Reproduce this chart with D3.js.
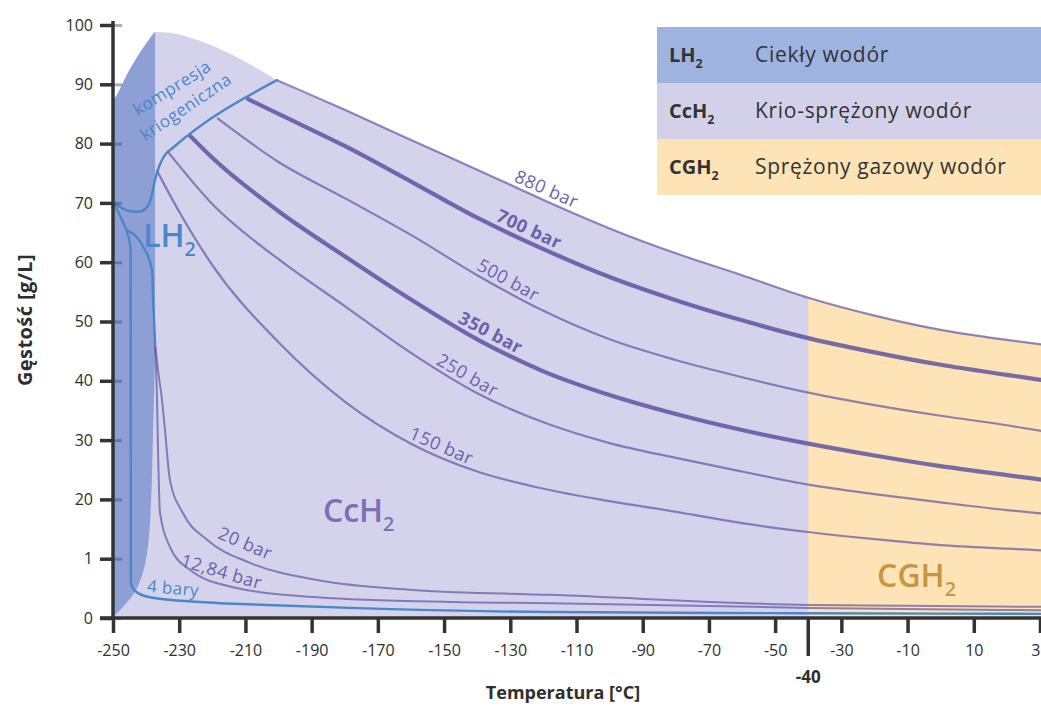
<!DOCTYPE html>
<html><head><meta charset="utf-8">
<script src="https://cdn.jsdelivr.net/npm/d3@7"></script>
<style>body{margin:0;background:#fff}svg{display:block;font-family:'Open Sans',sans-serif;overflow:hidden}</style>
</head><body><svg id="c" width="1041" height="706"></svg>
<script>
// ---------- DATA (temperature °C, density g/L) ----------
const xTicks = [-250,-230,-210,-190,-170,-150,-130,-110,-90,-70,-50,-30,-10,10,30];
const xSpecialTick = -40;
const yTicks = [0,10,20,30,40,50,60,70,80,90,100];
const yTickLabels = ["0","1","20","30","40","50","60","70","80","90","100"];

const bar880T = [-200.5,-180,-160,-140,-120,-100,-80,-60,-40,-20,0,20,31];
const bar880D = [90.7,85.7,80.6,75.6,70.5,65.7,61.5,57.8,54.0,51.0,48.6,46.9,46.1];
const bar700T = [-209.2,-200,-180,-160,-140,-120,-100,-80,-60,-40,-20,0,20,31];
const bar700D = [87.5,85.0,79.6,73.6,67.5,62.2,57.5,53.6,50.2,47.2,44.8,42.7,41.0,40.1];
const bar500T = [-218.3,-200,-180,-160,-140,-120,-100,-80,-60,-40,-20,0,20,31];
const bar500D = [84.2,76.9,70.8,64.6,57.8,51.8,47.0,43.5,40.6,38.0,35.9,34.1,32.5,31.5];
const bar350T = [-226.7,-220,-200,-180,-160,-140,-120,-100,-80,-60,-40,-20,0,20,31];
const bar350D = [81.3,77.6,68.6,61.0,53.7,47.0,41.6,37.6,34.4,31.7,29.4,27.4,25.6,24.1,23.3];
const bar250T = [-233.4,-220,-200,-180,-160,-140,-120,-100,-80,-60,-40,-20,0,20,31];
const bar250D = [78.6,69.8,60.5,52.6,44.7,37.9,33.0,29.5,27.0,24.7,22.5,20.9,19.5,18.2,17.6];
const bar150T = [-236.7,-230,-220,-200,-180,-160,-140,-120,-100,-80,-60,-40,-20,0,20,31];
const bar150D = [75.4,68.5,59.5,46.5,36.5,29.4,24.7,21.8,19.7,17.9,16.0,14.5,13.3,12.3,11.7,11.4];
const bar20T  = [-237.3,-236.4,-235.2,-234.3,-232.8,-228.9,-221.6,-208.6,-188.4,-158.2,-118,-40,31];
const bar20D  = [46.4,41.8,36.8,31.7,23.3,17.7,13.2,9.3,6.4,4.7,3.9,2.2,1.9];
const bar1284T = [-237.3,-236.7,-236.4,-235.8,-232.8,-226.7,-213.7,-188.4,-148.2,-118,-40,31];
const bar1284D = [45.7,36.8,28.3,17.7,12.0,8.1,5.2,3.5,2.7,2.5,1.7,1.3];
const bar4T   = [-250,-247.3,-245.5,-244.7,-244.6,-243.4,-238.8,-223.7,-203.5,-178.4,-118,-40,31];
const bar4D   = [70.2,67.1,64.6,62.4,5.9,4.6,3.5,2.7,2.2,1.7,1.0,0.8,0.7];
const satT    = [-245.8,-240.9,-238.2,-237.9,-237.3];
const satD    = [65.4,62.6,58.7,54.1,46.4];
const cryoT   = [-250,-247.9,-244.9,-242.4,-240.0,-238.5,-237.3,-236.1,-234.3,-231.9,-200.5];
const cryoD   = [70.2,69.3,68.6,68.5,69.1,70.8,73.9,76.1,78.1,79.3,90.7];
const lh2TopT = [-250,-248.8,-245.8,-242.7,-239.7,-237.3];
const lh2TopD = [87.0,88.2,91.6,94.6,97.1,98.8];
const lh2EdgeT = [-237.3,-237.3,-237.9,-238.5,-239.4,-240.9,-243.4,-247.3,-250];
const lh2EdgeD = [98.8,46.4,31.7,19.9,12.3,7.8,4.4,1.7,0.2];
const cchTopT = [-237.3,-232.8,-223.7,-213.7,-205.6,-200.5];
const cchTopD = [98.8,98.7,97.3,94.9,92.4,90.7];
const cghStart = -40;

const isobarNames = ["880 bar","700 bar","500 bar","350 bar","250 bar","150 bar","20 bar","12,84 bar"];
const legendSymbols = ["LH", "CcH", "CGH"];
const legendNames = ["Ciekły wodór", "Krio-sprężony wodór", "Sprężony gazowy wodór"];

// ---------- CHART ----------
const svg = d3.select('#c');
const x = d3.scaleLinear().domain([-250,30]).range([113,1040]);
const y = d3.scaleLinear().domain([0,100]).range([618,25]);
const zip = (T,D) => T.map((t,i)=>[t,D[i]]);

const lineX = d3.line().x(d=>x(d[0])).y(d=>y(d[1])).curve(d3.curveMonotoneX);
const lineY = d3.line().x(d=>x(d[0])).y(d=>y(d[1])).curve(d3.curveMonotoneY);

const COL = {lav:'#d5d3ec', lh2:'#8d9fd4', cgh:'#fde3b5', blue:'#4a86c8', purple:'#564b9e', text:'#2e2e2e', lab:'#6a62ab'};

// CcH2 area (lavender)
const topEdge = zip(lh2TopT.slice(0,-1),lh2TopD.slice(0,-1))
  .concat(zip(cchTopT,cchTopD))
  .concat(zip(bar880T.slice(1),bar880D.slice(1)));
const area = d3.area().x(d=>x(d[0])).y0(y(0)).y1(d=>y(d[1])).curve(d3.curveMonotoneX);
svg.append('path').attr('d',area(topEdge)).attr('fill',COL.lav);

// CGH2 area (orange) = same upper edge, clipped from -40
svg.append('clipPath').attr('id','cg').append('rect')
  .attr('x',x(cghStart)).attr('y',0).attr('width',1041-x(cghStart)).attr('height',706);
svg.append('path').attr('d',area(topEdge)).attr('fill',COL.cgh).attr('clip-path','url(#cg)');

// LH2 area (dark blue)
const p1 = lineX([[ -250, 0]].concat(zip(lh2TopT,lh2TopD)));
const p2 = lineY(zip(lh2EdgeT,lh2EdgeD)).replace(/^M/,'L');
svg.append('path').attr('d',p1+p2+'Z').attr('fill',COL.lh2);

// isobars
const isobars = [
  {T:bar880T,D:bar880D,w:2.2},
  {T:bar700T,D:bar700D,w:4.2},
  {T:bar500T,D:bar500D,w:2.2},
  {T:bar350T,D:bar350D,w:4.2},
  {T:bar250T,D:bar250D,w:2.2},
  {T:bar150T,D:bar150D,w:2.2},
  {T:bar20T,D:bar20D,w:2},
  {T:bar1284T,D:bar1284D,w:2},
];
const isoPaths = svg.append('g').selectAll('path').data(isobars).join('path')
  .attr('d',d=>lineX(zip(d.T,d.D))).attr('fill','none')
  .attr('stroke',COL.purple).attr('stroke-opacity',d=>d.w>3?0.8:0.65)
  .attr('stroke-width',d=>d.w).attr('stroke-linecap','round');

// blue lines
const bluePaths = [[bar4T,bar4D],[satT,satD],[cryoT,cryoD]].map(([T,D])=>
  svg.append('path').attr('d',lineX(zip(T,D))).attr('fill','none')
    .attr('stroke',COL.blue).attr('stroke-width',2.4).attr('stroke-linecap','round'));

// ---------- AXES ----------
const ax = svg.append('g');
const yAxis = d3.axisLeft(y).tickValues(yTicks).tickFormat((d,i)=>yTickLabels[i]).tickSize(13).tickPadding(7);
const gy = ax.append('g').attr('transform',`translate(${x(-250)},0)`).call(yAxis);
gy.select('.domain').remove();
gy.selectAll('.tick line').attr('stroke','#333').attr('stroke-width',3.5);
gy.selectAll('.tick').append('line').attr('x1',0).attr('x2',9).attr('stroke','#3c4a7a').attr('stroke-opacity',0.45).attr('stroke-width',3);
gy.selectAll('.tick text').attr('font-size',16).attr('fill',COL.text).attr('font-family','Open Sans');
ax.append('line').attr('x1',x(-250)).attr('x2',x(-250)).attr('y1',y(0)+2).attr('y2',y(100)-4).attr('stroke','#333').attr('stroke-width',3.5);

const xAxis = d3.axisBottom(x).tickValues(xTicks).tickFormat(d=>String(d)).tickSize(15).tickPadding(12);
const gx = ax.append('g').attr('transform',`translate(0,${y(0)})`).call(xAxis);
gx.select('.domain').remove();
gx.selectAll('.tick line').attr('stroke','#333').attr('stroke-width',3.5);
gx.selectAll('.tick text').attr('font-size',16).attr('fill',COL.text).attr('font-family','Open Sans');
ax.append('line').attr('x1',x(-250)-13).attr('x2',1041).attr('y1',y(0)).attr('y2',y(0)).attr('stroke','#333').attr('stroke-width',3.5);
ax.append('line').attr('x1',x(xSpecialTick)).attr('x2',x(xSpecialTick)).attr('y1',y(0)).attr('y2',y(0)+38).attr('stroke','#333').attr('stroke-width',3.5);
ax.append('text').attr('x',x(xSpecialTick)).attr('y',y(0)+65).attr('text-anchor','middle')
  .attr('font-size',17).attr('font-weight',700).attr('fill',COL.text).text(String(xSpecialTick));

svg.append('text').attr('x',563).attr('y',699).attr('text-anchor','middle')
  .attr('font-size',18).attr('font-weight',700).attr('fill',COL.text).text('Temperatura [°C]');
svg.append('text').attr('transform','translate(32,320) rotate(-90)').attr('text-anchor','middle')
  .attr('font-size',20).attr('font-weight',700).attr('fill',COL.text).attr('letter-spacing',0.4).text('Gęstość [g/L]');

// ---------- LABELS ON LINES ----------
function pointAtX(node, px){
  const L = node.getTotalLength(); let lo=0, hi=L;
  for(let k=0;k<40;k++){ const m=(lo+hi)/2; if(node.getPointAtLength(m).x<px) lo=m; else hi=m; }
  return node.getPointAtLength((lo+hi)/2);
}
function labelOn(node, xc, off, txt, opts){
  const a = pointAtX(node, xc-12), b = pointAtX(node, xc+12), c = pointAtX(node, xc);
  const ang = Math.atan2(b.y-a.y, b.x-a.x)*180/Math.PI;
  return svg.append('text').attr('transform',`translate(${c.x},${c.y}) rotate(${ang})`)
    .attr('text-anchor','middle').attr('dy',-off).attr('font-size',opts.size).attr('font-weight',opts.weight||400)
    .attr('letter-spacing',opts.ls||0).attr('fill',opts.color).text(txt);
}
const labelX = [542,524,503,485,462,437,239,218];
const labelOff = [5,6,5,6,5,5,10,6];
isoPaths.each(function(d,i){
  labelOn(this, labelX[i], labelOff[i], isobarNames[i], {size:18, weight:(i===1||i===3)?700:400, ls:0.5, color:COL.lab});
});
labelOn(bluePaths[0].node(), 172, 6, '4 bary', {size:17, ls:0.4, color:COL.blue});

// "kompresja kriogeniczna" (two rotated lines)
[['kompresja',-232.2,89.4,-32],['kriogeniczna',-228.0,86.2,-34]].forEach(([t,T,D,a])=>{
  svg.append('text').attr('transform',`translate(${x(T)},${y(D)}) rotate(${a})`)
    .attr('text-anchor','middle').attr('dy','0.35em').attr('font-size',17).attr('letter-spacing',0.5)
    .attr('fill',COL.blue).text(t);
});

// ---------- REGION LABELS ----------
function sub(sel, main, s, fs){
  sel.append('tspan').text(main);
  sel.append('tspan').attr('font-size',fs*0.62).attr('dy',fs*0.28).text(s);
}
sub(svg.append('text').attr('x',x(-240.9)).attr('y',y(62.6)).attr('font-size',32).attr('font-weight',600).attr('fill',COL.blue),'LH','2',32);
sub(svg.append('text').attr('x',x(-186.6)).attr('y',y(16.2)).attr('font-size',32).attr('font-weight',600).attr('fill','#7a70b5'),'CcH','2',32);
sub(svg.append('text').attr('x',x(-19.2)).attr('y',y(5.2)).attr('font-size',32).attr('font-weight',600).attr('fill','#c99540'),'CGH','2',32);

// ---------- LEGEND ----------
const legColors = ['#9eb3df','#d3d1ea','#fde3b5'];
const lg = svg.append('g').attr('transform','translate(657,27)');
legendSymbols.forEach((s,i)=>{
  const r = lg.append('g').attr('transform',`translate(0,${i*56})`);
  r.append('rect').attr('width',400).attr('height',56).attr('fill',legColors[i]);
  sub(r.append('text').attr('x',12).attr('y',35).attr('font-size',20).attr('font-weight',700).attr('fill','#333'),s,'2',20);
  r.append('text').attr('x',98).attr('y',35).attr('font-size',21).attr('letter-spacing',0.7).attr('fill','#333').text(legendNames[i]);
});
</script></body></html>
